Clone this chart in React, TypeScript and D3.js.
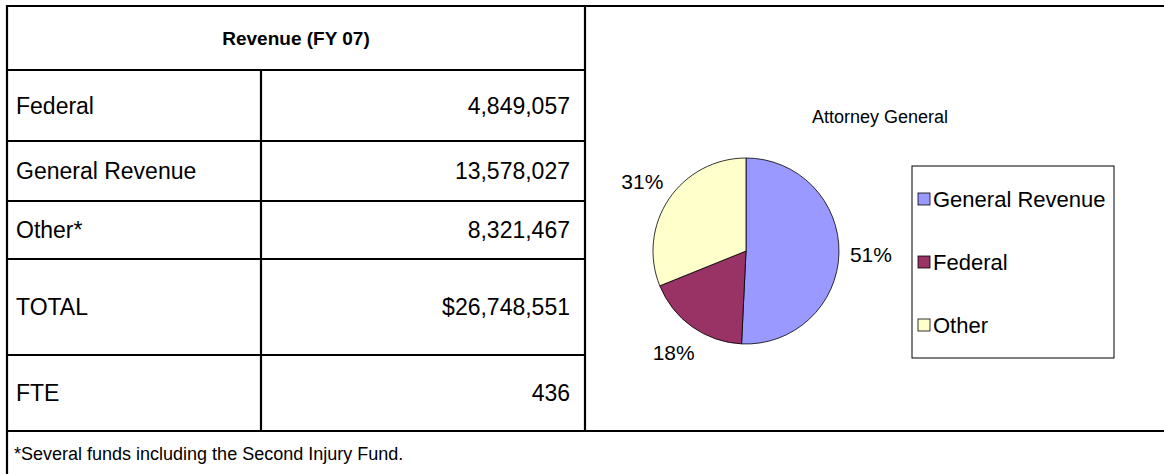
import * as d3 from "d3";

// table data
const rowLabels = ["Federal", "General Revenue", "Other*", "TOTAL", "FTE"];
const rowValues = ["4,849,057", "13,578,027", "8,321,467", "$26,748,551", "436"];
const headerText = "Revenue (FY 07)";
const footnote = "*Several funds including the Second Injury Fund.";

// pie data
const sliceNames = ["General Revenue", "Federal", "Other"];
const sliceValues = [13578027, 4849057, 8321467];
const sliceColors = ["#9999FF", "#993366", "#FFFFCC"];
const chartTitle = "Attorney General";

const W = 1164;
const H = 474;
const FONT = "'Liberation Sans', Arial, Helvetica, sans-serif";

export default function App() {
  // table geometry
  const left = 7;
  const top = 6;
  const splitX = 261;
  const tableRight = 585;
  const rowLines = [70, 141, 201, 259, 355, 431];

  // pie geometry
  const cx = 746;
  const cy = 251;
  const r = 93;

  const total = d3.sum(sliceValues);
  const pie = d3
    .pie<number>()
    .sort(null)
    .startAngle(0)
    .endAngle(2 * Math.PI)
    .value((d) => d);
  const arcs = pie(sliceValues);
  const arc = d3.arc<d3.PieArcDatum<number>>().innerRadius(0).outerRadius(r);
  const pct = d3.format(".0%");
  const labelR = r + 32;

  const legendX = 912;
  const legendY = 166;
  const legendW = 202;
  const legendH = 192;
  const legendStep = 63;

  return (
    <svg
      width={W}
      height={H}
      style={{ position: "absolute", left: 0, top: 0, background: "#fff" }}
      fontFamily={FONT}
    >
      <rect x={0} y={0} width={W} height={H} fill="#fff" />
      {/* borders */}
      <g stroke="#000" strokeWidth={2.2}>
        <line x1={left} x2={W} y1={top} y2={top} />
        <line x1={left} x2={left} y1={top - 1} y2={H} />
        <line x1={tableRight} x2={tableRight} y1={top} y2={rowLines[5]} />
        <line x1={splitX} x2={splitX} y1={rowLines[0]} y2={rowLines[5]} />
        {rowLines.slice(0, 5).map((y, i) => (
          <line key={i} x1={left} x2={tableRight} y1={y} y2={y} />
        ))}
        <line x1={left} x2={W} y1={rowLines[5]} y2={rowLines[5]} />
      </g>

      {/* header */}
      <text
        x={(left + tableRight) / 2}
        y={(top + rowLines[0]) / 2}
        textAnchor="middle"
        dominantBaseline="central"
        fontWeight="bold"
        fontSize={19}
      >
        {headerText}
      </text>

      {/* rows */}
      {rowLabels.map((lab, i) => {
        const ym = (rowLines[i] + rowLines[i + 1]) / 2;
        return (
          <g key={lab} fontSize={23}>
            <text x={left + 9} y={ym} dominantBaseline="central">
              {lab}
            </text>
            <text x={tableRight - 15} y={ym} textAnchor="end" dominantBaseline="central">
              {rowValues[i]}
            </text>
          </g>
        );
      })}

      <text x={left + 7} y={(rowLines[5] + H) / 2 + 1} dominantBaseline="central" fontSize={18}>
        {footnote}
      </text>

      {/* chart */}
      <text x={880} y={117} textAnchor="middle" dominantBaseline="central" fontSize={18}>
        {chartTitle}
      </text>

      <g transform={`translate(${cx},${cy})`}>
        {arcs.map((a, i) => (
          <path
            key={sliceNames[i]}
            d={arc(a) || ""}
            fill={sliceColors[i]}
            stroke="#000"
            strokeWidth={0.8}
          />
        ))}
        {arcs.map((a, i) => {
          const mid = (a.startAngle + a.endAngle) / 2;
          const x = Math.sin(mid) * labelR;
          const y = -Math.cos(mid) * labelR;
          return (
            <text
              key={"l" + i}
              x={x}
              y={y}
              textAnchor="middle"
              dominantBaseline="central"
              fontSize={21}
            >
              {pct(a.value / total)}
            </text>
          );
        })}
      </g>

      {/* legend */}
      <rect
        x={legendX}
        y={legendY}
        width={legendW}
        height={legendH}
        fill="#fff"
        stroke="#000"
        strokeWidth={1}
      />
      {sliceNames.map((name, i) => {
        const y = legendY + 33 + i * legendStep;
        return (
          <g key={name}>
            <rect
              x={legendX + 6}
              y={y - 6}
              width={12}
              height={12}
              fill={sliceColors[i]}
              stroke="#000"
              strokeWidth={0.8}
            />
            <text x={legendX + 21} y={y} dominantBaseline="central" fontSize={22}>
              {name}
            </text>
          </g>
        );
      })}
    </svg>
  );
}
